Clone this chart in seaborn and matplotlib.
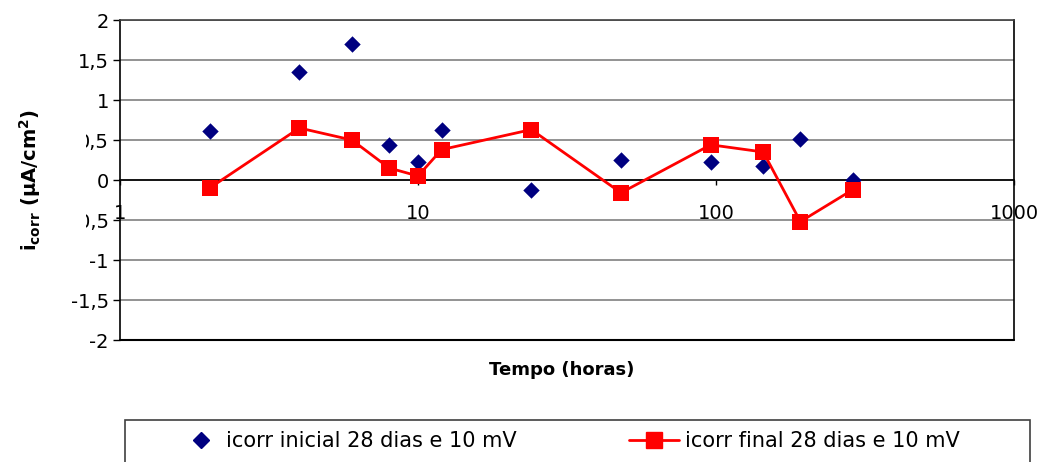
import matplotlib
matplotlib.use("Agg")
import matplotlib.pyplot as plt
import seaborn as sns
import pandas as pd
from matplotlib.lines import Line2D
from matplotlib.patches import Rectangle
from matplotlib.transforms import Bbox, TransformedBbox

# data
tempo = [2, 4, 6, 8, 10, 12, 24, 48, 96, 144, 192, 288]
icorr_inicial = [0.61, 1.35, 1.70, 0.44, 0.23, 0.62, -0.13, 0.25, 0.23, 0.17, 0.51, 0.0]
icorr_final = [-0.10, 0.65, 0.50, 0.15, 0.05, 0.38, 0.63, -0.16, 0.44, 0.35, -0.52, -0.12]
y_ticks = [-2, -1.5, -1, -0.5, 0, 0.5, 1, 1.5, 2]
y_labels = ["-2", "-1,5", "-1", "-0,5", "0", "0,5", "1", "1,5", "2"]
x_ticks = [1, 10, 100, 1000]
x_labels = ["1", "10", "100", "1000"]
lab_inicial = "icorr inicial 28 dias e 10 mV"
lab_final = "icorr final 28 dias e 10 mV"

df = pd.DataFrame({"tempo": tempo, "inicial": icorr_inicial, "final": icorr_final})

sns.set_style("white")
plt.rcParams["font.family"] = ["DejaVu Sans"]
plt.rcParams["mathtext.fontset"] = "dejavusans"
for k in ("text.color", "axes.labelcolor", "xtick.color", "ytick.color"):
    plt.rcParams[k] = "black"

W, H = 1038, 462
fig = plt.figure(figsize=(W / 100, H / 100), dpi=100)
ax = fig.add_axes([120 / W, 1 - 340 / H, 894 / W, 320 / H])

navy = "#000080"
red = "#FF0000"

sns.scatterplot(data=df, x="tempo", y="inicial", ax=ax, marker="D", s=70,
                color=navy, edgecolor=navy, linewidth=0, zorder=3, legend=False)
sns.lineplot(data=df, x="tempo", y="final", ax=ax, color=red, lw=2,
             marker="s", markersize=11.5, markeredgecolor=red, markeredgewidth=0,
             estimator=None, sort=False, zorder=4, legend=False)

ax.set_xscale("log")
ax.set_xlim(1, 1000)
ax.set_ylim(-2, 2)

# horizontal gridlines
for yv in y_ticks:
    ax.axhline(yv, color="#808080", lw=1.2, zorder=1)
ax.axhline(-2, color="black", lw=1.5, zorder=2, clip_on=False)

ax.set_yticks(y_ticks)
ax.set_yticklabels(y_labels)
ax.set_xticks(x_ticks)
ax.set_xticklabels(x_labels)
ax.xaxis.set_minor_locator(matplotlib.ticker.NullLocator())

ax.spines["bottom"].set_position(("data", 0))
ax.spines["bottom"].set_color("black")
ax.spines["bottom"].set_zorder(2)
ax.spines["left"].set_color("black")
ax.spines["right"].set_color("black")
ax.spines["top"].set_color("#404040")
for s in ax.spines.values():
    s.set_linewidth(1.2)

ax.tick_params(axis="y", direction="out", length=5, width=1, color="black",
               labelsize=14, pad=3, left=True)
ax.tick_params(axis="x", direction="out", length=3.5, width=1, color="black",
               labelsize=14, pad=14, bottom=True)

ax.set_xlabel("Tempo (horas)", fontsize=13, fontweight="bold")
ax.xaxis.set_label_coords(0.494, -0.065)
ax.xaxis.label.set_va("top")
ax.set_ylabel(r"i$_{\mathbf{corr}}$ ($\mathbf{\mu}$A/cm$^{\mathbf{2}}$)",
              fontsize=14, fontweight="bold")
ax.yaxis.set_label_coords(-0.086, 0.5)

# the reference clips the left part of the "0,5" labels
clip = TransformedBbox(Bbox([[86 / W, 0], [1, 1]]), fig.transFigure)
for t in ax.get_yticklabels():
    if t.get_text() in ("0,5", "-0,5"):
        t.set_clip_on(True)
        t.set_clip_box(clip)

# legend frame (cut off at the bottom of the image)
fig.patches.append(Rectangle((125 / W, -0.1), 905 / W, 0.1 + 42 / H,
                             transform=fig.transFigure, fill=False,
                             edgecolor="#404040", lw=1.2))
h1 = Line2D([], [], color=navy, marker="D", markersize=8, linestyle="none")
h2 = Line2D([], [], color=red, marker="s", markersize=11, lw=2)
fig.legend([h1], [lab_inicial], loc="center left", bbox_to_anchor=(180 / W, 1 - 441 / H),
           frameon=False, fontsize=15, handlelength=2.0, handletextpad=0.2,
           borderpad=0, borderaxespad=0)
fig.legend([h2], [lab_final], loc="center left", bbox_to_anchor=(629 / W, 1 - 441 / H),
           frameon=False, fontsize=15, handlelength=2.4, handletextpad=0.3,
           borderpad=0, borderaxespad=0)

fig.savefig("out.png", dpi=100)
